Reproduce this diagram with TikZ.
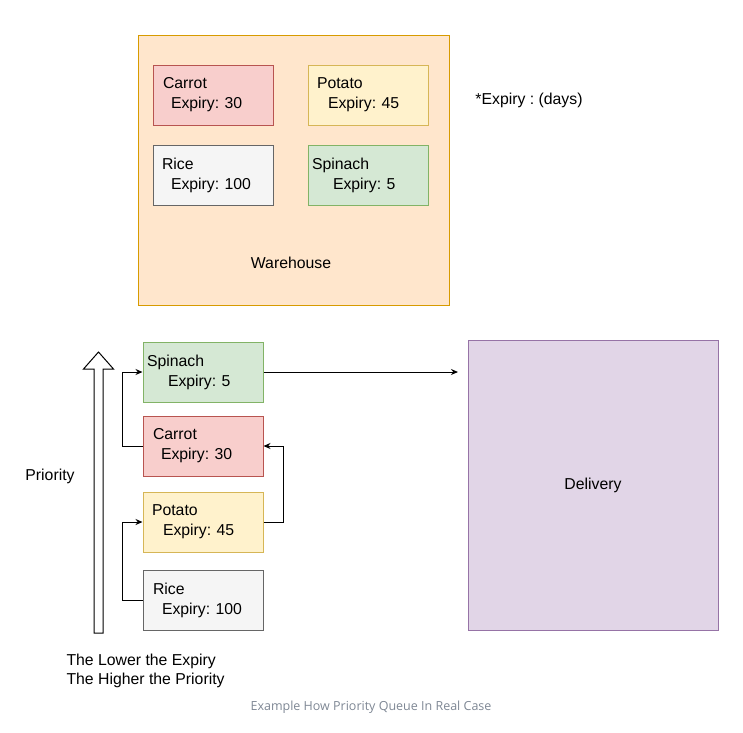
\documentclass[tikz,border=0pt]{standalone}
\usepackage{fontspec}
\setmainfont{Liberation Sans}
\newfontfamily\notefont{Open Sans}
\usepackage{xcolor}
\usetikzlibrary{arrows.meta}

\definecolor{whfill}{HTML}{FFE6CC}
\definecolor{whdraw}{HTML}{D79B00}
\definecolor{redfill}{HTML}{F8CECC}
\definecolor{reddraw}{HTML}{B85450}
\definecolor{yelfill}{HTML}{FFF2CC}
\definecolor{yeldraw}{HTML}{D6B656}
\definecolor{grayfill}{HTML}{F5F5F5}
\definecolor{graydraw}{HTML}{666666}
\definecolor{grnfill}{HTML}{D5E8D4}
\definecolor{grndraw}{HTML}{82B366}
\definecolor{purfill}{HTML}{E1D5E7}
\definecolor{purdraw}{HTML}{9673A6}
\definecolor{notegray}{HTML}{7E8794}

\tikzset{
  food/.style={draw, line width=1pt, minimum width=120pt, minimum height=60pt,
    text width=112pt, align=left, inner sep=4pt, font=\fontsize{15.8}{20}\selectfont},
  label/.style={font=\fontsize{15.8}{19}\selectfont},
  link/.style={line width=1pt, -{Stealth[length=7pt,width=6pt]}},
}

\begin{document}
\frenchspacing
\begin{tikzpicture}[x=1pt,y=-1pt]
\useasboundingbox (0,0) rectangle (743,732);

% Warehouse
\node[draw=whdraw, fill=whfill, line width=1pt, minimum width=311pt, minimum height=270pt] (warehouse) at (293.5,170) {};
\node[label] (whname) at (291,263) {Warehouse};
\node[food, fill=redfill, draw=reddraw] (carrot1) at (213,95) {\hspace*{6pt}Carrot\\\hspace*{14pt}Expiry: 30};
\node[food, fill=yelfill, draw=yeldraw] (potato1) at (368,95) {\hspace*{5pt}Potato\\\hspace*{16pt}Expiry: 45};
\node[food, fill=grayfill, draw=graydraw] (rice1) at (213,175) {\hspace*{5pt}Rice\\\hspace*{14pt}Expiry: 100};
\node[food, fill=grnfill, draw=grndraw] (spinach1) at (368,175) {Spinach\\\hspace*{21pt}Expiry: 5};
\node[label] (unit) at (529,100) {*Expiry : (days)};

% Priority queue
\node[food, fill=grnfill, draw=grndraw] (spinach2) at (203,372) {Spinach\\\hspace*{21pt}Expiry: 5};
\node[food, fill=redfill, draw=reddraw] (carrot2) at (203,446) {\hspace*{6pt}Carrot\\\hspace*{14pt}Expiry: 30};
\node[food, fill=yelfill, draw=yeldraw] (potato2) at (203,522) {\hspace*{5pt}Potato\\\hspace*{16pt}Expiry: 45};
\node[food, fill=grayfill, draw=graydraw] (rice2) at (203,600) {\hspace*{6pt}Rice\\\hspace*{15pt}Expiry: 100};

\draw[link] (carrot2.west) -- ++(-20,0) |- (spinach2.west);
\draw[link] (rice2.west) -- ++(-20,0) |- (potato2.west);
\draw[link] (potato2.east) -- ++(20,0) |- (carrot2.east);

% Delivery
\node[draw=purdraw, fill=purfill, line width=1pt, minimum width=250pt, minimum height=290pt, label] (delivery) at (593,485) {Delivery};
\coordinate (gate) at (458,372);
\draw[link] (spinach2.east) -- (gate);

% Priority arrow
\draw[line width=1pt] (94,633) -- (94,369) -- (83.5,369) -- (98.5,352) -- (113.5,369) -- (103,369) -- (103,633) -- cycle;
\node[label] (prio) at (50,476) {Priority};
\node[label, anchor=west, align=left] (rule) at (63,670.5) {The Lower the Expiry\\The Higher the Priority};

\node[font=\notefont\fontsize{12.5}{15}\selectfont, text=notegray] (caption) at (371,707) {Example How Priority Queue In Real Case};
\end{tikzpicture}
\end{document}
